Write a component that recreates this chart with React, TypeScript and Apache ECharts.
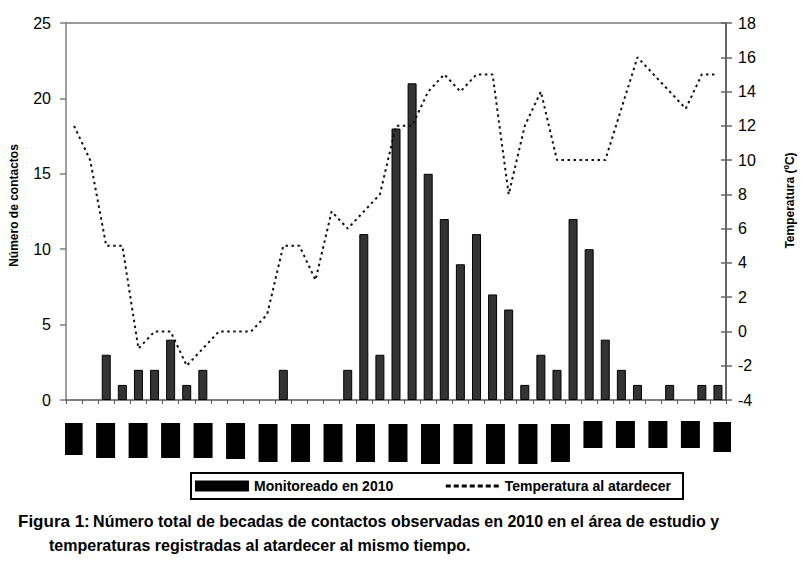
import React, { useEffect, useRef } from "react";
import * as echarts from "echarts";

const categories = [
  "1", "2", "3", "4", "5", "6", "7", "8", "9", "10", "11", "12", "13", "14",
  "15", "16", "17", "18", "19", "20", "21", "22", "23", "24", "25", "26", "27",
  "28", "29", "30", "31", "32", "33", "34", "35", "36", "37", "38", "39", "40", "41",
];

const contacts = [
  0, 0, 3, 1, 2, 2, 4, 1, 2, 0, 0, 0, 0, 2, 0, 0, 0, 2, 11, 3, 18, 21, 15, 12, 9,
  11, 7, 6, 1, 3, 2, 12, 10, 4, 2, 1, 0, 1, 0, 1, 1,
];

const temperature = [
  12, 10, 5, 5, -1, 0, 0, -2, -1, 0, 0, 0, 1, 5, 5, 3, 7, 6, 7, 8, 12, 12, 14, 15,
  14, 15, 15, 8, 12, 14, 10, 10, 10, 10, 13, 16, 15, 14, 13, 15, 15,
];

// monitoring blocks, one per two categories (even categories)
const monitoredOffset = [3, 3, 3, 3, 3, 3, 4, 4, 4, 4, 4, 4, 4, 4, 4, 4, 1, 1, 1, 1, 2];
const monitoredLength = [32, 35, 35, 35, 35, 36, 38, 38, 38, 38, 38, 40, 40, 40, 40, 38, 27, 27, 27, 27, 30];

const contactTicks = { min: 0, max: 25, interval: 5 };
const tempTicks = { min: -4, max: 18, interval: 2 };

const FONT = "'Liberation Sans', Arial, Helvetica, sans-serif";

export default function App() {
  const ref = useRef<HTMLDivElement>(null);

  useEffect(() => {
    document.body.style.margin = "0";
    if (!ref.current) return;
    const chart = echarts.init(ref.current, null, { renderer: "svg" });

    const contactData = contacts.map((v) => (v === 0 ? "-" : v));
    const offsetFull = categories.map((_, i) => (i % 2 === 0 ? monitoredOffset[i / 2] : "-"));
    const lengthFull = categories.map((_, i) => (i % 2 === 0 ? monitoredLength[i / 2] : "-"));

    const axisGray = "#7f7f7f";

    const option: any = {
      animation: false,
      backgroundColor: "#fff",
      textStyle: { fontFamily: FONT },
      grid: [
        { left: 65, right: 73, top: 23, bottom: 164 },
        { left: 65, right: 73, top: 420, height: 50 },
      ],
      xAxis: [
        {
          type: "category",
          gridIndex: 0,
          data: categories,
          boundaryGap: true,
          axisLine: { show: true, lineStyle: { color: "#555", width: 1.5 } },
          axisTick: { show: true, interval: 0, length: 4, lineStyle: { color: "#555" } },
          axisLabel: { show: false },
          splitLine: { show: false },
        },
        {
          type: "category",
          gridIndex: 1,
          data: categories,
          show: false,
        },
      ],
      yAxis: [
        {
          type: "value",
          gridIndex: 0,
          position: "left",
          ...contactTicks,
          name: "Número de contactos",
          nameLocation: "middle",
          nameGap: 46,
          nameTextStyle: {
            fontWeight: "bold",
            fontSize: 12,
            color: "#000",
            fontFamily: FONT,
            padding: [0, 0, 0, 12],
          },
          axisLine: { show: true, lineStyle: { color: axisGray, width: 1.5 } },
          axisTick: { show: true, length: 6, lineStyle: { color: axisGray, width: 1.5 } },
          axisLabel: { color: "#000", fontSize: 16, margin: 15, fontFamily: FONT },
          splitLine: {
            show: true,
            lineStyle: {
              color: [
                "rgba(0,0,0,0)",
                "rgba(0,0,0,0)",
                "rgba(0,0,0,0)",
                "rgba(0,0,0,0)",
                "rgba(0,0,0,0)",
                "#9a9a9a",
              ],
              width: 2,
            },
          },
        },
        {
          type: "value",
          gridIndex: 0,
          position: "right",
          ...tempTicks,
          name: "Temperatura (ºC)",
          nameLocation: "middle",
          nameGap: 58,
          nameTextStyle: {
            fontWeight: "bold",
            fontSize: 12,
            color: "#000",
            fontFamily: FONT,
            padding: [0, 0, 0, 22],
          },
          axisLine: { show: true, lineStyle: { color: "#666", width: 2 } },
          axisTick: { show: true, length: 6, lineStyle: { color: "#666", width: 1.5 } },
          axisLabel: { color: "#000", fontSize: 16, margin: 12, fontFamily: FONT },
          splitLine: { show: false },
        },
        {
          type: "value",
          gridIndex: 1,
          inverse: true,
          min: 0,
          max: 50,
          show: false,
        },
        {
          type: "value",
          gridIndex: 0,
          position: "right",
          ...tempTicks,
          axisLine: { show: false },
          axisTick: { show: true, inside: true, length: 5, lineStyle: { color: "#666", width: 1.5 } },
          axisLabel: { show: false },
          splitLine: { show: false },
        },
      ],
      legend: {
        left: 191,
        top: 473,
        orient: "horizontal",
        padding: [6, 12, 6, 4],
        itemGap: 51,
        itemWidth: 54,
        itemHeight: 11,
        borderColor: "#000",
        borderWidth: 2,
        borderRadius: 0,
        selectedMode: false,
        textStyle: { fontWeight: "bold", fontSize: 14, color: "#000", fontFamily: FONT },
        data: [
          { name: "Monitoreado en 2010", icon: "rect", itemStyle: { color: "#000" } },
          {
            name: "Temperatura al atardecer",
            itemStyle: { opacity: 0 },
            lineStyle: { type: [5, 3], width: 3, color: "#000" },
          },
        ],
      },
      series: [
        {
          name: "Número de contactos",
          type: "bar",
          xAxisIndex: 0,
          yAxisIndex: 0,
          data: contactData,
          barWidth: 9,
          itemStyle: { color: "#333333", borderColor: "#000", borderWidth: 1 },
          z: 2,
        },
        {
          name: "Temperatura al atardecer",
          type: "line",
          xAxisIndex: 0,
          yAxisIndex: 1,
          data: temperature,
          symbol: "none",
          lineStyle: { color: "#111", width: 2, type: [2.5, 3.5] },
          itemStyle: { color: "#111" },
          z: 3,
        },
        {
          name: "base",
          type: "bar",
          xAxisIndex: 1,
          yAxisIndex: 2,
          stack: "mon",
          data: offsetFull,
          barWidth: 19,
          itemStyle: { color: "rgba(0,0,0,0)" },
          silent: true,
        },
        {
          name: "Monitoreado en 2010",
          type: "bar",
          xAxisIndex: 1,
          yAxisIndex: 2,
          stack: "mon",
          data: lengthFull,
          barWidth: 19,
          itemStyle: { color: "#000" },
        },
      ],
      graphic: [
        {
          type: "text",
          left: 18,
          top: 513,
          style: {
            text: "{a|Figura 1:} {b|Número total de becadas de contactos observadas en 2010 en el área de estudio y}",
            rich: {
              a: { fontSize: 17, fontWeight: "bold", fill: "#000", fontFamily: FONT },
              b: { fontSize: 16, fontWeight: "bold", fill: "#000", fontFamily: FONT },
            },
          },
        },
        {
          type: "text",
          left: 49,
          top: 537,
          style: {
            text: "temperaturas registradas al atardecer al mismo tiempo.",
            fontSize: 16,
            fontWeight: "bold",
            fill: "#000",
            fontFamily: FONT,
          },
        },
      ],
    };

    chart.setOption(option);
    return () => chart.dispose();
  }, []);

  return <div ref={ref} style={{ width: 804, height: 564 }} />;
}
